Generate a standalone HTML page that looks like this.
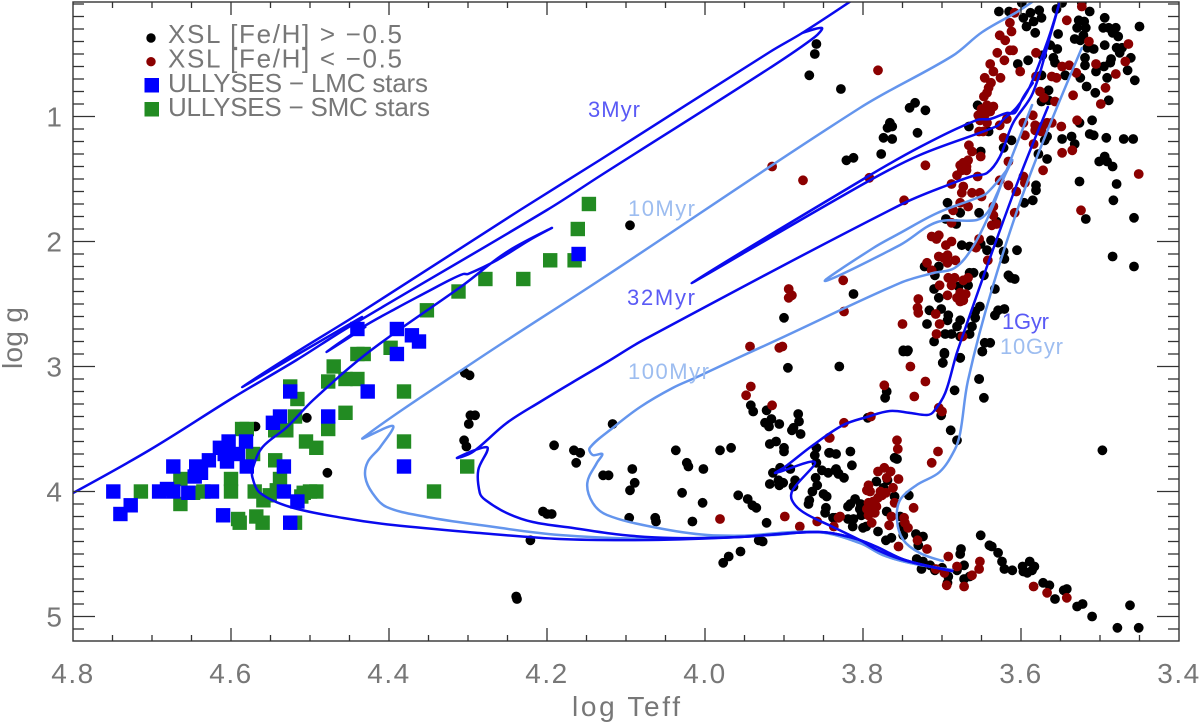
<!DOCTYPE html>
<html lang="en">
<head>
<meta charset="utf-8">
<title>log Teff vs log g</title>
<style>
html,body{margin:0;padding:0;background:#fff;}
svg{display:block;}
text{font-family:"Liberation Sans",sans-serif;fill:#777;}
</style>
</head>
<body>
<svg id="chart" width="1200" height="726" viewBox="0 0 1200 726" xmlns="http://www.w3.org/2000/svg">
<rect x="0" y="0" width="1200" height="726" fill="#fff"/>
<defs><clipPath id="plot-clip"><rect x="73" y="2" width="1106" height="639"/></clipPath></defs>
<g id="dots-black" clip-path="url(#plot-clip)"></g>
<g id="dots-red" clip-path="url(#plot-clip)"></g>
<g id="squares-green" clip-path="url(#plot-clip)"></g>
<g id="isochrones" clip-path="url(#plot-clip)"></g>
<g id="squares-blue" clip-path="url(#plot-clip)"></g>
<g id="axes"></g>

<g>
<circle cx="151" cy="38" r="4.7" fill="#000"/>
<text x="168" y="43" font-size="26" textLength="234" lengthAdjust="spacing">XSL [Fe/H] &gt; −0.5</text>
<circle cx="151" cy="61.7" r="4.7" fill="#8b0000"/>
<text x="168" y="67.5" font-size="26" textLength="234" lengthAdjust="spacing">XSL [Fe/H] &lt; −0.5</text>
<rect x="144.5" y="78" width="14.5" height="14.5" fill="#0000ff"/>
<text x="168" y="92" font-size="26" textLength="260" lengthAdjust="spacing">ULLYSES − LMC stars</text>
<rect x="144.5" y="102" width="14.5" height="14.5" fill="#228b22"/>
<text x="168" y="116" font-size="26" textLength="262" lengthAdjust="spacing">ULLYSES − SMC stars</text>
</g>

<g font-size="22">
<text x="588" y="117" style="fill:#5a5af5" textLength="52" lengthAdjust="spacing">3Myr</text>
<text x="628" y="216" style="fill:#9dbdf0" textLength="67" lengthAdjust="spacing">10Myr</text>
<text x="627" y="305" style="fill:#5a5af5" textLength="68" lengthAdjust="spacing">32Myr</text>
<text x="628" y="379" style="fill:#9dbdf0" textLength="81" lengthAdjust="spacing">100Myr</text>
<text x="1002" y="329" style="fill:#5a5af5" textLength="47" lengthAdjust="spacing">1Gyr</text>
<text x="1000" y="354" style="fill:#9dbdf0" textLength="63" lengthAdjust="spacing">10Gyr</text>
</g>

<text x="626" y="716" font-size="28" text-anchor="middle" textLength="108" lengthAdjust="spacing">log Teff</text>
<text transform="translate(22,338) rotate(-90)" font-size="28" text-anchor="middle" textLength="62" lengthAdjust="spacing">log g</text>
</svg>

<script>
const xTickLabels = ["4.8","4.6","4.4","4.2","4.0","3.8","3.6","3.4"];
const yTickLabels = ["1","2","3","4","5"];

const ullysesLmc = [[4.749,4.00],[4.727,4.11],[4.740,4.18],[4.691,4.00],[4.681,3.98],[4.673,4.00],[4.654,4.01],[4.624,4.00],[4.673,3.80],[4.644,3.80],[4.638,3.85],[4.646,3.88],[4.628,3.75],[4.614,3.65],[4.603,3.60],[4.581,3.60],[4.608,3.70],[4.591,3.70],[4.605,3.76],[4.580,3.80],[4.610,4.19],[4.533,4.00],[4.516,4.08],[4.525,4.25],[4.533,3.80],[4.547,3.45],[4.538,3.40],[4.525,3.20],[4.477,3.40],[4.427,3.20],[4.440,2.70],[4.390,2.70],[4.371,2.75],[4.362,2.80],[4.390,2.90],[4.381,3.80],[4.160,2.10]];

const ullysesSmc = [[4.714,4.00],[4.664,3.90],[4.664,4.10],[4.648,4.01],[4.635,4.00],[4.600,3.90],[4.600,4.00],[4.570,4.00],[4.559,4.07],[4.551,4.03],[4.538,3.90],[4.544,3.75],[4.572,3.70],[4.586,3.50],[4.580,3.50],[4.544,3.51],[4.530,3.51],[4.519,3.40],[4.516,3.26],[4.525,3.16],[4.505,3.60],[4.492,3.65],[4.477,3.50],[4.455,3.37],[4.477,3.12],[4.470,3.00],[4.455,3.10],[4.440,3.10],[4.440,2.90],[4.432,2.90],[4.398,2.85],[4.381,3.20],[4.381,3.60],[4.343,4.00],[4.301,3.80],[4.352,2.55],[4.312,2.40],[4.278,2.30],[4.230,2.30],[4.196,2.15],[4.165,2.15],[4.161,1.90],[4.147,1.70],[4.591,4.22],[4.589,4.25],[4.568,4.20],[4.560,4.25],[4.519,4.25],[4.508,4.01],[4.492,4.00],[4.500,4.00],[4.511,4.04],[4.542,3.99]];

const xslMetalRich = [[4.569,3.48],[4.504,3.41],[4.478,3.85],
[4.304,3.05],[4.298,3.07],[4.297,3.39],[4.291,3.39],[4.299,3.46],[4.305,3.59],[4.302,3.64],[4.205,4.16],[4.200,4.18],[4.194,4.18],[4.221,4.39],[4.239,4.84],[4.238,4.86],[4.117,3.46],[4.191,3.63],[4.166,3.67],[4.158,3.69],[4.163,3.77],[4.129,3.87],[4.122,3.87],[4.092,3.82],[4.089,3.93],[4.095,3.99],[4.096,4.21],[4.063,4.21],[4.062,4.24],[4.016,4.24],[4.037,3.67],[4.023,3.77],[4.021,3.80],[4.002,3.82],[3.981,3.67],[3.967,3.65],[4.029,4.01],[4.003,4.09],[3.958,4.03],[3.946,4.06],[3.940,4.11],[3.935,4.13],[3.922,4.25],[3.932,4.39],[3.927,4.40],[3.955,4.48],[3.970,4.52],[3.977,4.57],[3.895,3.01],[3.942,3.31],[3.939,3.36],[3.922,3.35],[3.916,3.42],[3.924,3.45],[3.919,3.48],[3.906,3.46],[3.882,3.38],[3.881,3.44],[3.888,3.49],[3.890,3.51],[3.879,3.54],[3.918,3.62],[3.910,3.60],[3.900,3.65],[3.900,3.68],[3.905,3.81],[3.914,3.85],[3.892,3.82],[3.918,3.94],[3.907,3.91],[3.901,3.93],[3.906,3.95],[3.886,3.91],[3.888,3.96],[3.859,3.65],[3.861,3.71],[3.859,3.77],[3.842,3.69],[3.834,3.70],[3.852,3.83],[3.844,3.85],[3.835,3.83],[3.831,3.855],[3.860,3.89],[3.858,3.95],[3.864,4.00],[3.868,4.07],[3.869,4.10],[3.850,4.02],[3.846,4.04],[3.847,4.13],[3.848,4.17],[3.830,3.00],[3.835,4.21],
[3.699,2.97],[3.697,2.90],[3.749,2.88],[3.744,2.88],[3.677,2.93],[3.649,2.88],[3.653,3.10],[3.647,3.25],[3.684,3.19],[3.770,3.20],[3.772,3.25],[3.701,3.39],[3.689,3.51],[3.681,3.59],[3.794,3.41],[3.816,3.68],[3.814,3.79],[3.843,3.69],[3.834,3.82],[3.831,3.86],[3.824,3.89],[3.816,4.10],[3.819,4.12],[3.810,4.06],[3.803,4.10],[3.804,4.14],[3.802,4.19],[3.819,4.22],[3.812,4.22],[3.813,4.28],[3.800,4.29],[3.796,4.28],[3.781,4.32],[3.771,4.39],[3.764,4.37],[3.838,4.21],[3.783,3.92],[3.769,3.91],[3.774,3.97],[3.760,4.04],[3.742,4.03],[3.770,4.16],[3.757,3.74],[3.760,3.73],[3.753,4.20],[3.749,4.35],[3.751,4.28],[3.733,4.34],[3.724,4.36],[3.730,4.43],[3.732,4.54],[3.724,4.56],[3.715,4.59],[3.726,4.62],[3.709,4.63],[3.700,4.61],[3.692,4.68],[3.693,4.73],[3.681,4.63],[3.672,4.59],[3.677,4.50],[3.676,4.46],[3.672,4.70],[3.665,4.68],[3.651,4.35],[3.640,4.43],[3.637,4.44],[3.629,4.49],[3.624,4.56],[3.621,4.62],[3.611,4.63],[3.598,4.60],[3.597,4.64],[3.592,4.65],[3.589,4.56],[3.583,4.60],[3.586,4.63],[3.572,4.73],[3.564,4.75],[3.557,4.86],[3.546,4.79],[3.542,4.78],[3.529,4.92],[3.522,4.90],[3.510,5.00],[3.478,5.09],[3.451,5.09],[3.462,4.91],[3.497,3.67],
[3.628,0.16],[3.615,0.16],[3.599,0.09],[3.597,0.21],[3.588,0.17],[3.577,0.15],[3.574,0.21],[3.584,0.24],[3.593,0.28],[3.582,0.33],[3.555,0.14],[3.548,0.09],[3.553,0.34],[3.563,0.43],[3.554,0.46],[3.573,0.51],[3.591,0.55],[3.604,0.58],[3.559,0.53],[3.557,0.57],[3.574,0.67],[3.565,0.79],[3.574,0.88],[3.565,0.87],[3.523,0.09],[3.513,0.16],[3.527,0.23],[3.520,0.24],[3.529,0.29],[3.518,0.29],[3.521,0.35],[3.532,0.38],[3.525,0.39],[3.516,0.45],[3.508,0.46],[3.494,0.21],[3.496,0.29],[3.489,0.29],[3.480,0.29],[3.484,0.33],[3.477,0.36],[3.494,0.43],[3.479,0.45],[3.472,0.45],[3.475,0.49],[3.450,0.28],[3.461,0.53],[3.519,0.53],[3.519,0.59],[3.486,0.54],[3.487,0.57],[3.495,0.60],[3.505,0.64],[3.465,0.63],[3.456,0.71],[3.525,0.69],[3.544,0.67],[3.491,0.69],[3.517,0.76],[3.506,0.81],[3.489,0.87],[3.510,1.03],[3.526,1.05],[3.513,1.14],[3.508,1.15],[3.492,1.17],[3.470,1.18],[3.458,1.18],[3.536,1.16],[3.548,1.18],[3.532,1.22],[3.567,1.16],[3.570,1.19],[3.494,1.32],[3.501,1.36],[3.491,1.36],[3.484,1.40],[3.526,1.52],[3.479,1.54],[3.483,1.67],[3.578,1.30],[3.567,1.34],[3.581,1.55],[3.581,1.59],[3.585,1.67],[3.622,1.25],[3.612,1.19],[3.651,1.28],[3.641,1.12],[3.666,1.08],[3.655,0.91],[3.721,0.95],[3.741,0.93],[3.734,0.89],[3.766,1.05],[3.767,1.08],[3.769,1.09],[3.763,1.08],[3.731,1.13],[3.774,1.17],[3.763,1.18],[3.777,1.30],
[3.693,1.69],[3.677,1.77],[3.695,1.82],[3.653,1.77],[3.682,1.86],[3.631,1.84],[3.596,1.69],[3.518,1.82],[3.457,1.81],[3.484,2.12],[3.457,2.20],[3.638,1.99],[3.629,2.01],[3.675,2.03],[3.665,2.04],[3.651,2.02],[3.643,2.07],[3.622,2.08],[3.605,2.07],[3.621,2.14],[3.722,2.20],[3.704,2.20],[3.709,2.27],[3.665,2.25],[3.660,2.25],[3.647,2.27],[3.616,2.27],[3.613,2.29],[3.608,2.30],[3.633,2.38],[3.710,2.38],[3.704,2.45],[3.667,2.35],[3.679,2.36],[3.716,2.55],[3.701,2.54],[3.692,2.59],[3.693,2.63],[3.719,2.66],[3.677,2.63],[3.681,2.68],[3.652,2.52],[3.658,2.56],[3.658,2.61],[3.633,2.59],[3.621,2.54],[3.629,2.55],[3.662,2.68],[3.696,2.74],[3.688,2.74],[3.665,2.74],[3.677,2.76],[3.710,2.80],[3.646,2.81],[3.639,2.81],[3.749,2.87],[3.743,2.87],[3.697,2.89],[3.649,2.88],[3.699,2.97],[3.677,2.93],[3.653,3.10],
[3.868,0.67],[3.828,0.78],[4.095,1.87],[3.821,1.35],[3.812,1.33],[3.812,2.42],[3.900,2.61],[3.859,0.42],[3.861,0.50]];

const xslMetalPoor = [[3.943,2.84],[3.906,2.85],[3.902,2.84],[3.942,3.16],[3.948,3.23],[3.915,3.31],[3.842,3.57],[3.981,4.22],[3.899,4.20],[3.880,4.28],[3.858,4.24],
[3.740,3.00],[3.721,3.12],[3.773,3.15],[3.735,3.24],[3.704,3.33],[3.700,3.36],[3.790,3.40],[3.824,3.45],[3.843,3.57],[3.837,4.28],[3.831,4.21],[3.829,4.20],[3.757,3.59],[3.756,3.66],[3.705,3.68],[3.713,3.77],[3.773,3.81],[3.781,3.84],[3.765,3.84],[3.770,3.89],[3.755,3.90],[3.762,3.97],[3.793,3.95],[3.795,3.99],[3.791,4.00],[3.771,4.01],[3.778,4.00],[3.776,4.03],[3.781,4.05],[3.787,4.08],[3.793,4.09],[3.783,4.12],[3.789,4.12],[3.795,4.14],[3.785,4.17],[3.793,4.19],[3.789,4.25],[3.760,4.09],[3.736,4.13],[3.764,4.20],[3.748,4.21],[3.747,4.25],[3.743,4.29],[3.767,4.27],[3.731,4.39],[3.755,4.44],[3.719,4.46],[3.692,4.52],[3.681,4.60],[3.708,4.62],[3.697,4.65],[3.694,4.75],[3.672,4.76],[3.662,4.67],[3.653,4.62],[3.652,4.56],[3.584,4.76],[3.567,4.81],[3.542,4.85],
[3.781,0.63],[3.792,1.49],[3.721,1.39],[3.523,0.12],[3.608,0.17],[3.614,0.25],[3.612,0.32],[3.627,0.35],[3.620,0.39],[3.630,0.49],[3.614,0.47],[3.610,0.47],[3.621,0.55],[3.639,0.58],[3.635,0.64],[3.646,0.69],[3.638,0.73],[3.641,0.77],[3.643,0.81],[3.647,0.84],[3.626,0.69],[3.601,0.64],[3.581,0.49],[3.581,0.68],[3.561,0.68],[3.555,0.69],[3.548,0.60],[3.539,0.59],[3.542,0.23],[3.514,0.40],[3.464,0.42],[3.468,0.56],[3.480,0.66],[3.505,0.58],[3.530,0.65],[3.493,0.77],[3.499,0.90],[3.534,0.83],[3.557,0.88],[3.576,0.80],[3.571,0.85],[3.643,0.91],[3.635,0.92],[3.650,0.94],[3.639,0.96],[3.654,0.99],[3.646,0.99],[3.652,1.03],[3.643,1.05],[3.618,1.02],[3.627,1.07],[3.597,1.05],[3.585,0.99],[3.582,1.07],[3.582,1.11],[3.595,1.15],[3.573,1.08],[3.567,1.05],[3.561,1.05],[3.574,1.12],[3.549,1.08],[3.529,1.03],[3.584,1.22],[3.622,1.17],[3.548,1.29],[3.535,1.27],[3.451,1.46],[3.653,1.12],[3.648,1.12],[3.666,1.23],[3.651,1.32],[3.662,1.28],[3.667,1.35],[3.673,1.37],[3.677,1.39],[3.669,1.40],[3.675,1.43],[3.669,1.43],[3.681,1.47],[3.655,1.48],[3.688,1.54],[3.673,1.56],[3.675,1.61],[3.662,1.61],[3.652,1.61],[3.616,1.36],[3.572,1.43],[3.597,1.48],[3.595,1.53],[3.627,1.51],[3.616,1.55],[3.606,1.60],[3.748,1.67],
[3.524,1.75],[3.608,1.77],[3.650,1.64],[3.677,1.69],[3.667,1.72],[3.686,1.75],[3.635,1.72],[3.635,1.79],[3.688,1.85],[3.637,1.87],[3.631,1.86],[3.713,1.96],[3.704,1.95],[3.707,1.98],[3.695,2.03],[3.688,2.00],[3.653,1.98],[3.657,2.05],[3.704,2.12],[3.693,2.11],[3.698,2.13],[3.683,2.15],[3.693,2.17],[3.719,2.17],[3.713,2.23],[3.642,2.15],[3.692,2.29],[3.684,2.29],[3.688,2.35],[3.673,2.31],[3.667,2.29],[3.703,2.35],[3.693,2.43],[3.677,2.41],[3.670,2.42],[3.681,2.45],[3.673,2.47],[3.677,2.48],[3.730,2.46],[3.731,2.53],[3.730,2.57],[3.708,2.58],[3.750,2.66],[3.703,2.66],[3.707,2.74],[3.674,2.76],
[3.915,1.40],[3.876,1.51],[3.825,2.31],[3.894,2.38],[3.890,2.43],[3.894,2.45],[3.824,2.56]];

const iso3MyrMain = [[3.687,4.636],[3.747,4.548],[3.785,4.436],[3.817,4.364],[3.857,4.324],[3.956,4.364],[4.070,4.388],[4.184,4.380],[4.285,4.332],[4.395,4.268],[4.458,4.212],[4.525,4.124],[4.563,4.012],[4.573,3.884],[4.572,3.804],[4.560,3.644],[4.529,3.484],[4.496,3.268],[4.424,2.876],[4.306,2.348],[4.251,2.084],[4.194,1.892],[4.222,1.988],[4.263,2.148],[4.300,2.260],[4.306,2.260],[4.323,2.308],[4.352,2.404],[4.390,2.532],[4.433,2.684],[4.479,2.884],[4.430,2.684]];
const iso3MyrLower = [[4.800,4.012],[4.703,3.668],[4.598,3.252],[4.517,2.948],[4.453,2.692],[4.200,1.748],[4.133,1.476],[3.918,0.612],[3.861,0.364],[3.852,0.292],[3.877,0.332]];
const iso3MyrUpper = [[3.817,0.084],[3.877,0.332],[3.918,0.484],[4.133,1.348],[4.234,1.748],[4.439,2.580],[4.517,2.884],[4.586,3.164],[4.517,2.908],[4.434,2.604]];
const iso10Myr = [[3.687,4.628],[3.740,4.572],[3.775,4.508],[3.804,4.412],[3.857,4.324],[3.956,4.356],[4.057,4.380],[4.184,4.348],[4.285,4.268],[4.352,4.204],[4.403,4.124],[4.421,4.012],[4.430,3.884],[4.427,3.764],[4.411,3.644],[4.395,3.476],[4.433,3.572],[4.285,2.932],[4.133,2.308],[3.804,0.932],[3.687,0.516],[3.649,0.324],[3.605,0.164],[3.586,0.084]];
const iso32Myr = [[3.687,4.636],[3.747,4.548],[3.785,4.436],[3.817,4.364],[3.857,4.324],[3.956,4.364],[4.041,4.372],[4.104,4.348],[4.167,4.292],[4.218,4.244],[4.251,4.172],[4.278,4.068],[4.285,4.012],[4.287,3.828],[4.275,3.652],[4.291,3.668],[4.314,3.732],[4.294,3.684],[4.251,3.452],[4.209,3.284],[4.167,3.124],[4.124,2.964],[4.078,2.788],[3.753,1.708],[3.686,1.532],[3.661,1.476],[3.643,1.452],[3.627,1.324],[3.610,1.052],[3.585,0.812],[3.561,0.308],[3.551,0.084]];
const iso100Myr = [[3.687,4.628],[3.740,4.572],[3.775,4.508],[3.804,4.412],[3.857,4.324],[3.914,4.348],[3.997,4.348],[4.066,4.284],[4.124,4.188],[4.142,4.092],[4.149,3.932],[4.137,3.772],[4.130,3.700],[4.142,3.708],[4.146,3.652],[4.117,3.492],[4.082,3.324],[4.041,3.172],[4.010,3.084],[3.956,2.924],[3.909,2.788],[3.753,2.332],[3.711,2.252],[3.684,2.212],[3.661,2.044],[3.636,1.724],[3.623,1.508],[3.586,0.908]];
const iso300Myr = [[3.618,1.428],[3.643,1.612],[3.656,1.652],[3.706,1.772],[3.753,1.932],[3.787,2.052],[3.848,2.316],[3.753,2.028],[3.706,1.844],[3.656,1.828],[3.642,1.764],[3.630,1.612],[3.623,1.508],[3.611,1.348]];
const iso500Myr = [[3.585,0.732],[3.597,0.844],[3.608,0.972],[3.618,0.972],[3.639,1.020],[3.656,1.028],[3.728,1.244],[3.795,1.484],[4.017,2.332],[3.795,1.524],[3.728,1.308],[3.630,1.076],[3.623,1.028],[3.605,0.924],[3.589,0.764],[3.566,0.388],[3.551,0.084]];
const iso1Gyr = [[3.566,0.924],[3.608,1.588],[3.680,2.868],[3.696,3.212],[3.711,3.364],[3.719,3.388],[3.740,3.372],[3.766,3.356],[3.795,3.404],[3.825,3.468],[3.863,3.628],[3.899,3.804],[3.911,3.852],[3.861,3.764],[3.889,3.988],[3.890,4.068],[3.876,4.164],[3.838,4.284],[3.804,4.388],[3.782,4.468],[3.749,4.548],[3.687,4.636]];
const iso10Gyr = [[3.523,0.452],[3.591,1.508],[3.636,2.364],[3.667,3.108],[3.677,3.532],[3.684,3.668],[3.703,3.844],[3.732,3.948],[3.753,4.068],[3.757,4.228],[3.749,4.388],[3.728,4.492],[3.699,4.556]];

const DARK_BLUE = "#0a0aee";
const LIGHT_BLUE = "#6495ed";
const SVG_NS = "http://www.w3.org/2000/svg";

function xScale(teff) { return 73 + (4.8 - teff) * 790; }
function yScale(logg) { return 116.5 + (logg - 1) * 125; }

function drawCircles(groupId, points, color, name) {
  const g = document.getElementById(groupId);
  points.forEach(function (p) {
    const el = document.createElementNS(SVG_NS, "circle");
    el.setAttribute("cx", xScale(p[0]).toFixed(1));
    el.setAttribute("cy", yScale(p[1]).toFixed(1));
    el.setAttribute("r", "4.9");
    el.setAttribute("fill", color);
    
    
    g.appendChild(el);
  });
}

function drawSquares(groupId, points, color, name) {
  const g = document.getElementById(groupId);
  points.forEach(function (p) {
    const el = document.createElementNS(SVG_NS, "rect");
    el.setAttribute("x", (xScale(p[0]) - 7.2).toFixed(1));
    el.setAttribute("y", (yScale(p[1]) - 7.2).toFixed(1));
    el.setAttribute("width", "14.4");
    el.setAttribute("height", "14.4");
    el.setAttribute("fill", color);
    
    
    g.appendChild(el);
  });
}

function smoothPath(points) {
  const pts = points.map(function (p) { return [xScale(p[0]), yScale(p[1])]; });
  const n = pts.length;
  function dist(a, b) { return Math.hypot(a[0] - b[0], a[1] - b[1]); }
  function tangent(i) {
    if (i === 0 || i === n - 1) { return [0, 0]; }
    const total = dist(pts[i - 1], pts[i]) + dist(pts[i], pts[i + 1]);
    if (total === 0) { return [0, 0]; }
    return [(pts[i + 1][0] - pts[i - 1][0]) / total, (pts[i + 1][1] - pts[i - 1][1]) / total];
  }
  let d = "M" + pts[0][0].toFixed(1) + " " + pts[0][1].toFixed(1);
  for (let i = 0; i < n - 1; i++) {
    const seg = dist(pts[i], pts[i + 1]) * 0.35;
    const t0 = tangent(i);
    const t1 = tangent(i + 1);
    d += "C" + (pts[i][0] + t0[0] * seg).toFixed(1) + " " + (pts[i][1] + t0[1] * seg).toFixed(1) + " " +
      (pts[i + 1][0] - t1[0] * seg).toFixed(1) + " " + (pts[i + 1][1] - t1[1] * seg).toFixed(1) + " " +
      pts[i + 1][0].toFixed(1) + " " + pts[i + 1][1].toFixed(1);
  }
  return d;
}

function drawLine(points, color, name) {
  const g = document.getElementById("isochrones");
  const el = document.createElementNS(SVG_NS, "path");
  el.setAttribute("d", smoothPath(points));
  el.setAttribute("fill", "none");
  el.setAttribute("stroke", color);
  el.setAttribute("stroke-width", "2.5");
  el.setAttribute("stroke-linejoin", "round");
  el.setAttribute("stroke-linecap", "round");
  
  
  g.appendChild(el);
}

drawCircles("dots-black", xslMetalRich, "#000000", "xsl-metal-rich-star");
drawCircles("dots-red", xslMetalPoor, "#8b0000", "xsl-metal-poor-star");
drawSquares("squares-green", ullysesSmc, "#228b22", "ullyses-smc-star");
drawLine(iso10Gyr, LIGHT_BLUE, "isochrone-10gyr");
drawLine(iso100Myr, LIGHT_BLUE, "isochrone-100myr");
drawLine(iso300Myr, LIGHT_BLUE, "isochrone-300myr");
drawLine(iso10Myr, LIGHT_BLUE, "isochrone-10myr");
drawLine(iso500Myr, DARK_BLUE, "isochrone-500myr");
drawLine(iso1Gyr, DARK_BLUE, "isochrone-1gyr");
drawLine(iso32Myr, DARK_BLUE, "isochrone-32myr");
drawLine(iso3MyrMain, DARK_BLUE, "isochrone-3myr-main");
drawLine(iso3MyrLower, DARK_BLUE, "isochrone-3myr-lower");
drawLine(iso3MyrUpper, DARK_BLUE, "isochrone-3myr-upper");
drawSquares("squares-blue", ullysesLmc, "#0000ff", "ullyses-lmc-star");

const axes = document.getElementById("axes");

const frame = document.createElementNS(SVG_NS, "rect");
frame.setAttribute("x", "73");
frame.setAttribute("y", "2");
frame.setAttribute("width", "1106");
frame.setAttribute("height", "639");
frame.setAttribute("fill", "none");
frame.setAttribute("stroke", "#333");
frame.setAttribute("stroke-width", "1.4");


axes.appendChild(frame);

function addTick(x1, y1, x2, y2, name) {
  const el = document.createElementNS(SVG_NS, "line");
  el.setAttribute("x1", x1);
  el.setAttribute("y1", y1);
  el.setAttribute("x2", x2);
  el.setAttribute("y2", y2);
  el.setAttribute("stroke", "#333");
  el.setAttribute("stroke-width", "1.3");
  
  
  axes.appendChild(el);
}

for (let i = 1; i < 28; i++) {
  const teff = 4.8 - i * 0.05;
  const x = xScale(teff);
  const len = i % 4 === 0 ? 13 : 6;
  addTick(x, 641, x, 641 - len, "x-axis-tick");
  addTick(x, 2, x, 2 + len, "x-axis-top-tick");
}

for (let i = 1; i < 52; i++) {
  const logg = i * 0.1;
  const y = yScale(logg);
  if (y < 4) { continue; }
  const len = i % 10 === 0 ? 22 : 11;
  addTick(73, y, 73 + len, y, "y-axis-tick");
  addTick(1179, y, 1179 - len, y, "y-axis-right-tick");
}

xTickLabels.forEach(function (label) {
  const t = document.createElementNS(SVG_NS, "text");
  t.setAttribute("x", xScale(parseFloat(label)));
  t.setAttribute("y", "683");
  t.setAttribute("font-size", "28");
  t.setAttribute("text-anchor", "middle");
  t.setAttribute("letter-spacing", "1.5");
  
  
  t.textContent = label;
  axes.appendChild(t);
});

yTickLabels.forEach(function (label) {
  const t = document.createElementNS(SVG_NS, "text");
  t.setAttribute("x", "62");
  t.setAttribute("y", yScale(parseFloat(label)) + 10);
  t.setAttribute("font-size", "28");
  t.setAttribute("text-anchor", "end");
  
  
  t.textContent = label;
  axes.appendChild(t);
});
</script>
</body>
</html>
